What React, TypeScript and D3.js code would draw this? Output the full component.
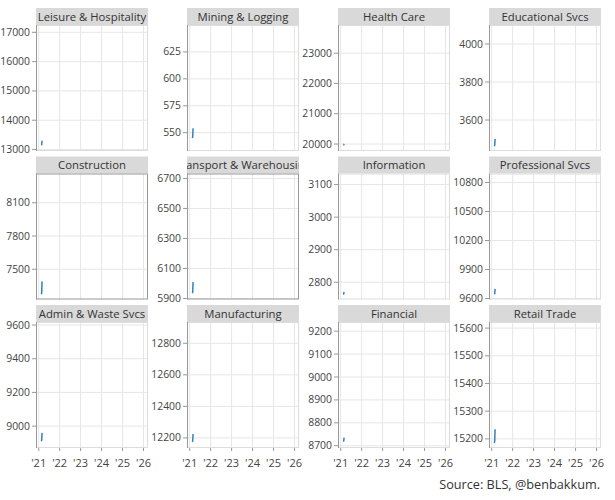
import React from 'react'
import * as d3 from 'd3'

const sectors = [
  'Leisure & Hospitality', 'Mining & Logging', 'Health Care', 'Educational Svcs',
  'Construction', 'Transport & Warehousing', 'Information', 'Professional Svcs',
  'Admin & Waste Svcs', 'Manufacturing', 'Financial', 'Retail Trade',
]

const yDomains: [number, number][] = [
  [12950, 17250], [533, 650], [19770, 23930], [3437, 4100],
  [7227, 8364], [5893, 6733], [2747, 3134], [9590, 10893],
  [8870, 9618], [12136, 12935], [8690, 9240], [15167, 15622],
]

const yTicks = [
  [13000, 14000, 15000, 16000, 17000],
  [550, 575, 600, 625],
  [20000, 21000, 22000, 23000],
  [3600, 3800, 4000],
  [7500, 7800, 8100],
  [5900, 6100, 6300, 6500, 6700],
  [2800, 2900, 3000, 3100],
  [9600, 9900, 10200, 10500, 10800],
  [9000, 9200, 9400, 9600],
  [12200, 12400, 12600, 12800],
  [8700, 8800, 8900, 9000, 9100, 9200],
  [15200, 15300, 15400, 15500, 15600],
]

// weekly readings, Feb 2021
const weeks = ['2021-02-15', '2021-02-22', '2021-03-01']
const employment = [
  [13150, 13160, 13300],
  [545, 546, 554],
  [19965, 19970, 20005],
  [3463, 3466, 3500],
  [7275, 7285, 7390],
  [5935, 5940, 6010],
  [2762, 2764, 2770],
  [9645, 9650, 9700],
  [8910, 8915, 8960],
  [12175, 12180, 12225],
  [8718, 8720, 8735],
  [15185, 15190, 15235],
]

const yearTicks = ['2021', '2022', '2023', '2024', '2025', '2026']
const highlighted = ['Construction', 'Transport & Warehousing']

const W = 615
const H = 500
const colX0 = 36
const colStep = 151
const panelW = 112
const rowY0 = 8
const rowStep = 148.5
const headH = 17
const plotH = 126
const font = '"Open Sans", "Noto Sans", sans-serif'

export default function App() {
  const parse = d3.timeParse('%Y-%m-%d')
  const x = d3.scaleTime()
    .domain([new Date(2020, 10, 15), new Date(2026, 2, 20)])
    .range([0, panelW])
  const years = yearTicks.map(y => new Date(+y, 0, 1))

  return (
    <svg width={W} height={H} style={{ position: 'absolute', left: 0, top: 0 }} fontFamily={font}>
      <rect width={W} height={H} fill="#fff" />
      {sectors.map((name, i) => {
        const c = i % 4
        const r = Math.floor(i / 4)
        const px = colX0 + c * colStep
        const top = rowY0 + r * rowStep
        const py = top + headH
        const y = d3.scaleLinear().domain(yDomains[i]).range([plotH, 0])
        const line = d3.line<[Date, number]>().x(d => x(d[0])).y(d => y(d[1]))
        const pts = weeks.map((m, k) => [parse(m)!, employment[i][k]] as [Date, number])
        const hl = highlighted.includes(name)
        const bottom = r === 2
        return (
          <g key={name}>
            <clipPath id={`hc${i}`}>
              <rect x={px} y={top} width={panelW} height={headH} />
            </clipPath>
            <rect x={px} y={top} width={panelW} height={headH} fill="#d9d9d9" />
            <text x={px + panelW / 2} y={top + 12.5} textAnchor="middle" fontSize={11.3} fill="#333" clipPath={`url(#hc${i})`}>{name}</text>
            <g transform={`translate(${px},${py})`}>
              {years.map(d => (
                <line key={+d} x1={x(d)} x2={x(d)} y1={0} y2={plotH} stroke="#e6e6e6" />
              ))}
              {yTicks[i].map(t => (
                <line key={t} x1={0} x2={panelW} y1={y(t)} y2={y(t)} stroke="#e6e6e6" />
              ))}
              <rect x={0.5} y={0.5} width={panelW - 1} height={plotH - 1} fill="none" stroke={hl ? '#999' : '#ddd'} />
              <line x1={0.5} x2={0.5} y1={0} y2={plotH} stroke="#999" />
              {yTicks[i].map(t => (
                <g key={t} transform={`translate(0,${y(t)})`}>
                  <line x1={-4} x2={0} stroke="#999" />
                  <text x={-6} dy="0.34em" textAnchor="end" fontSize={10.4} fill="#444">{t}</text>
                </g>
              ))}
              {bottom && years.map(d => (
                <g key={+d} transform={`translate(${x(d)},${plotH})`}>
                  <line y1={0} y2={3} stroke="#999" />
                  <text y={19} textAnchor="middle" fontSize={11} fill="#444">{d3.timeFormat("'%y")(d)}</text>
                </g>
              ))}
              <path d={line(pts) || ''} fill="none" stroke="#3182bd" strokeWidth={1.5} />
            </g>
          </g>
        )
      })}
      <text x={600} y={489} textAnchor="end" fontSize={12.7} fill="#333">Source: BLS, @benbakkum.</text>
    </svg>
  )
}
